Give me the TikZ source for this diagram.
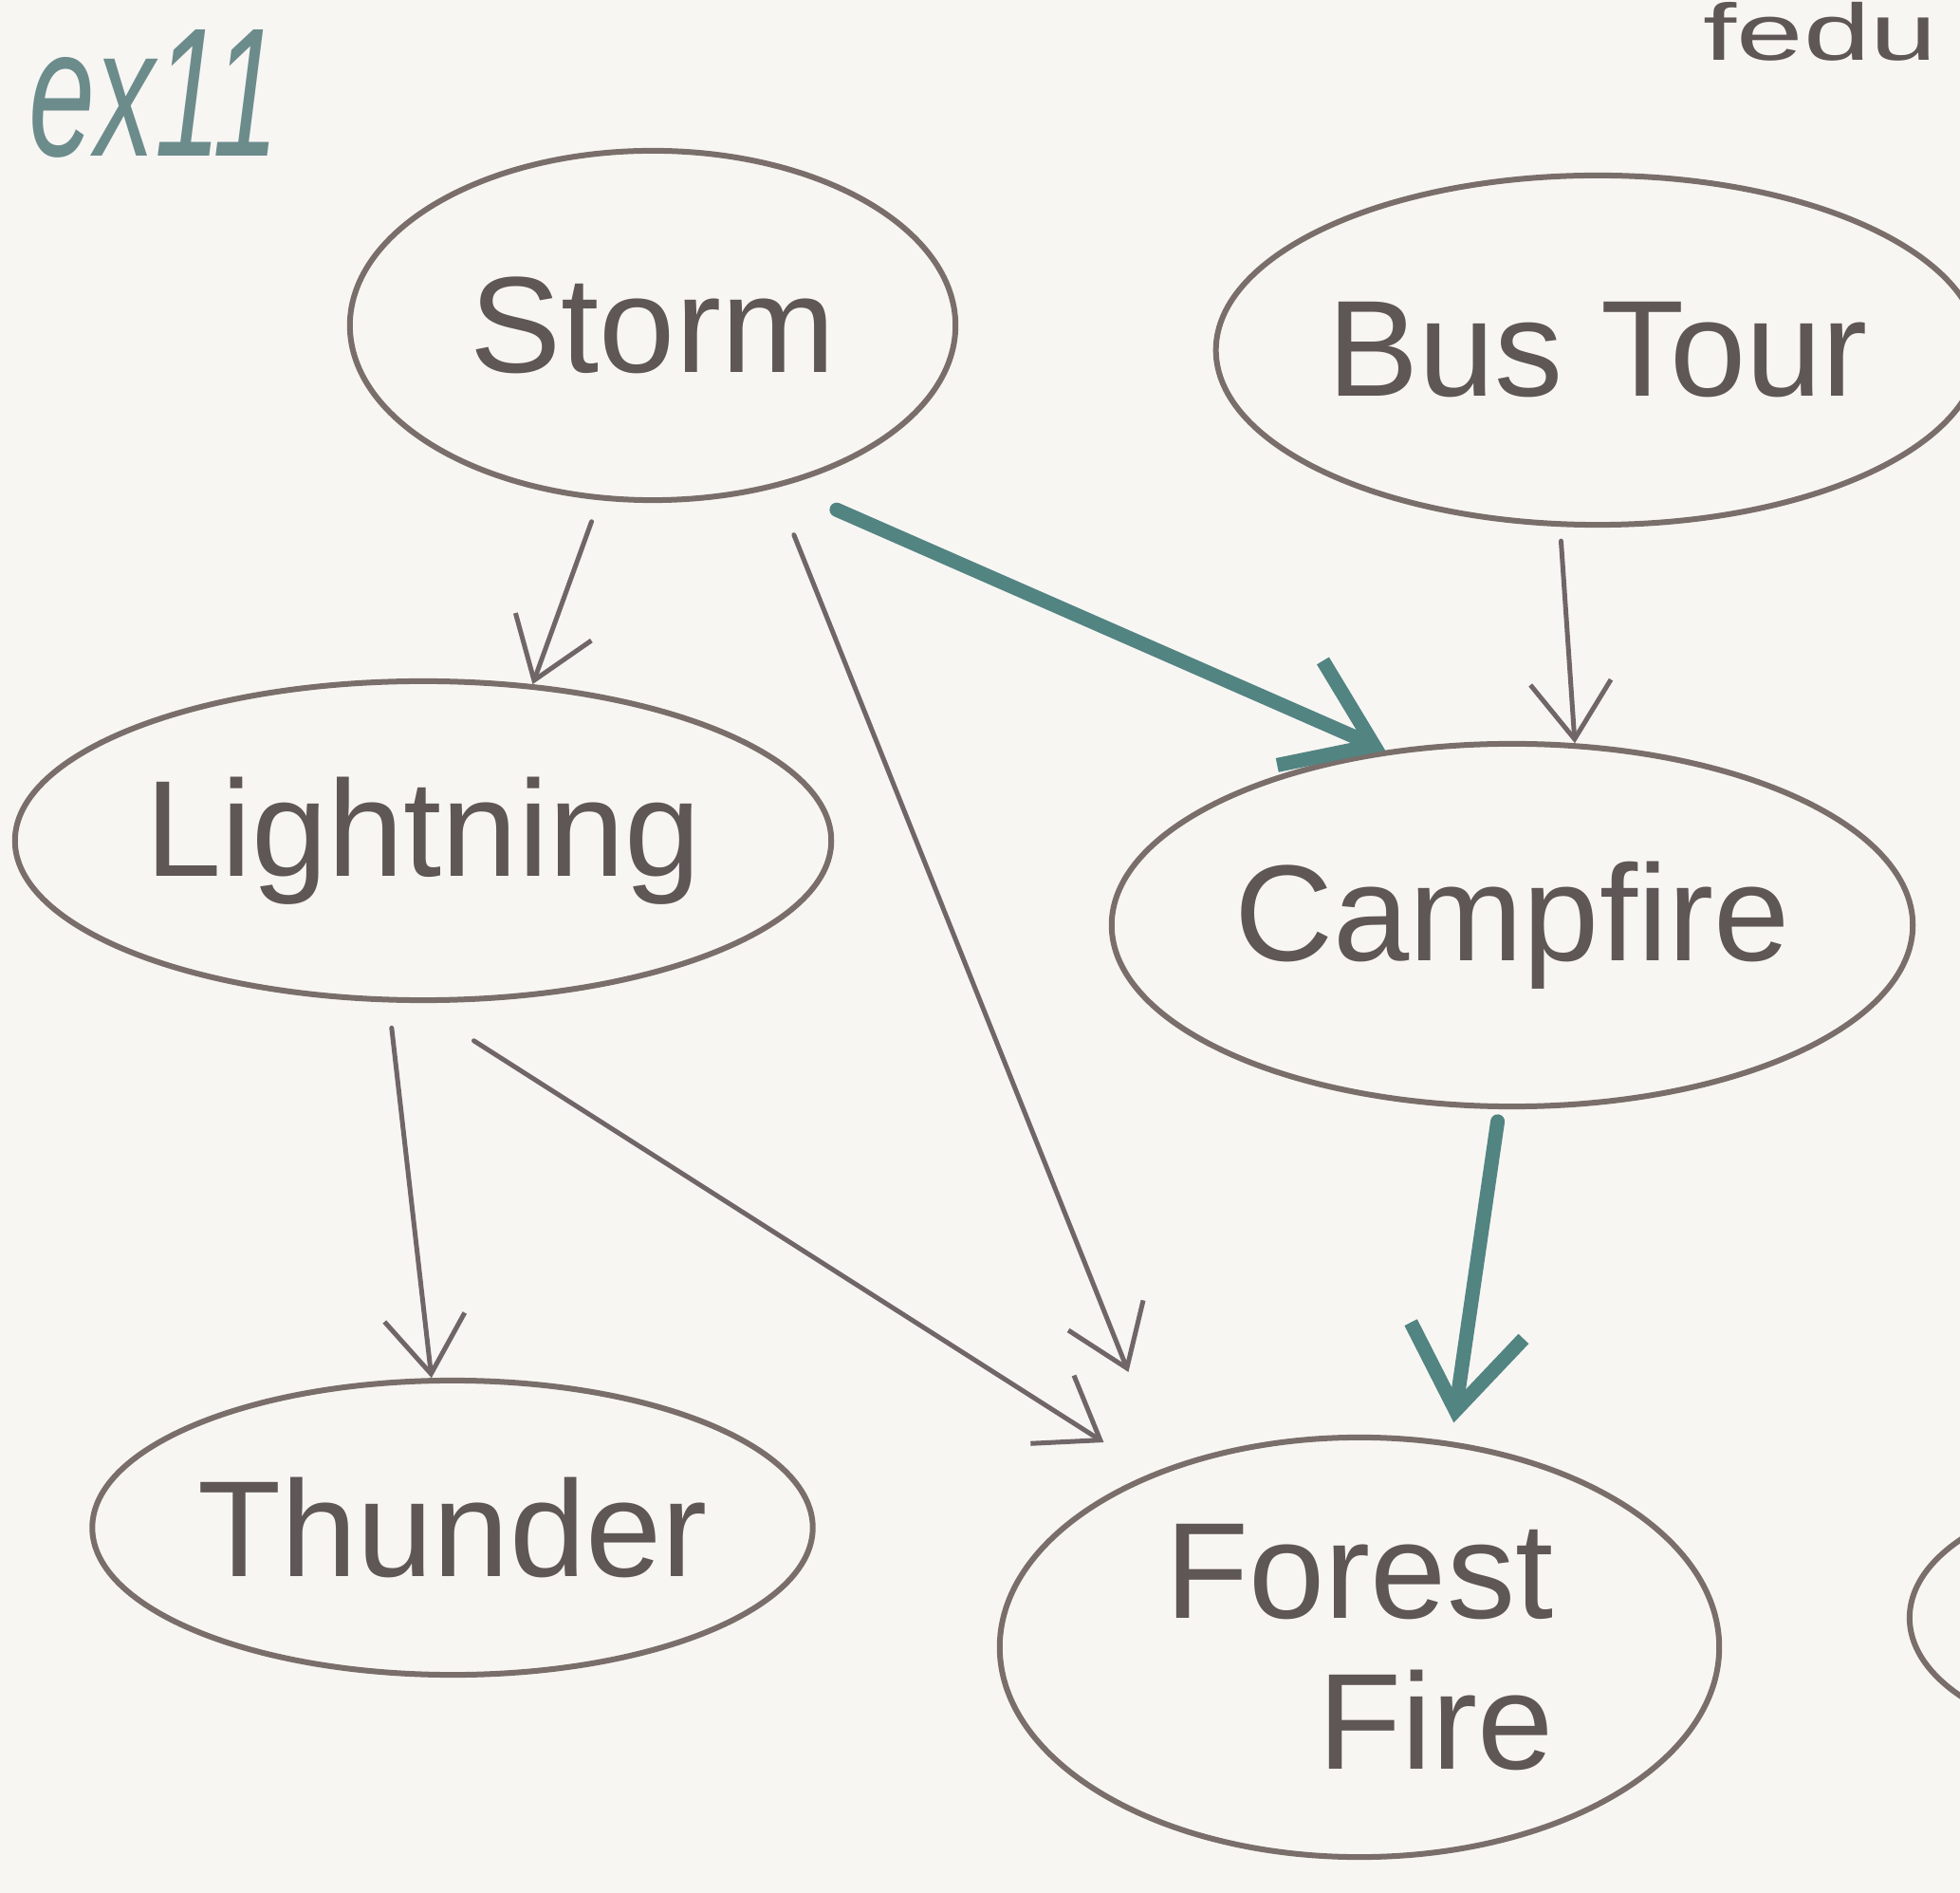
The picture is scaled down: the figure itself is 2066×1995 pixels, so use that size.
\documentclass[tikz,border=0pt]{standalone}
\usepackage{graphicx}
\usepackage{fontspec}
\setmainfont{Liberation Sans}
\usetikzlibrary{shapes.geometric,arrows.meta}
\definecolor{paper}{RGB}{248,246,243}
\definecolor{ink}{RGB}{122,110,106}
\definecolor{txt}{RGB}{95,86,86}
\definecolor{arr}{RGB}{112,102,104}
\definecolor{tealink}{RGB}{82,132,130}
\definecolor{exc}{RGB}{108,140,140}
\tikzset{
  var/.style={ellipse, draw=ink, line width=0.06cm, inner sep=0pt, text=txt,
    font=\fontsize{41}{45}\selectfont, align=center},
  thinarrow/.style={draw=arr, line width=0.05cm, line cap=round,
    -{Straight Barb[length=0.6cm,width=0.85cm]}},
  boldarrow/.style={draw=tealink, line width=0.15cm, line cap=round,
    -{Straight Barb[length=0.85cm,width=1.2cm]}},
  note/.style={anchor=base west, inner sep=0pt}
}
\begin{document}
\begin{tikzpicture}[x=0.01cm,y=-0.01cm]
\fill[paper] (0,0) rectangle (2066,1995);
\useasboundingbox (0,0) rectangle (2066,1995);
\begin{scope}
\clip (0,0) rectangle (2066,1995);
% nodes
\node[var, minimum width=6.38cm, minimum height=3.68cm] (storm) at (688,343) {Storm};
\node[var, minimum width=7.58cm, minimum height=3.68cm] (bus) at (1684,369) {Bus Tour};
\node[var, minimum width=8.6cm, minimum height=3.36cm] (lightning) at (446,886) {Lightning};
\node[var, minimum width=8.44cm, minimum height=3.82cm] (campfire) at (1594,975) {Campfire};
\node[var, minimum width=7.18cm, minimum height=3.1cm] (thunder) at (477,1610) {Thunder};
\node[var, minimum width=7.58cm, minimum height=4.42cm, align=right] (forest) at (1433,1736) {Forest\\Fire};
\node[var, minimum width=5cm, minimum height=2.66cm] (other) at (2263,1705) {};
% notes
\node[note, text=exc, font=\fontsize{55}{55}\selectfont\itshape] (ex) at (30,165) {\scalebox{0.65}[1]{ex11}};
\node[note, text=txt, font=\fontsize{24}{24}\selectfont] (cut) at (1795,64) {\scalebox{1.5}[1]{fedu}};
% connectors
\draw[thinarrow, shorten <=0.24cm] (storm.253.6) -- (lightning.55.8);
\draw[boldarrow, shorten <=0.62cm] (storm.309.9) -- (campfire.126.7);
\draw[thinarrow, shorten <=0.53cm, shorten >=1.08cm] (storm.307.6) -- (forest.137);
\draw[thinarrow, shorten <=0.15cm] (bus.258.3) -- (campfire.71.5);
\draw[thinarrow, shorten <=0.27cm] (lightning.258.6) -- (thunder.98.5);
\draw[thinarrow, shorten <=0.74cm, shorten >=0.6cm] (lightning.267.5) -- (forest.140);
\draw[boldarrow, shorten <=0.13cm, shorten >=0.2cm] (campfire.266.7) -- (forest.66.8);
\end{scope}
\end{tikzpicture}
\end{document}
